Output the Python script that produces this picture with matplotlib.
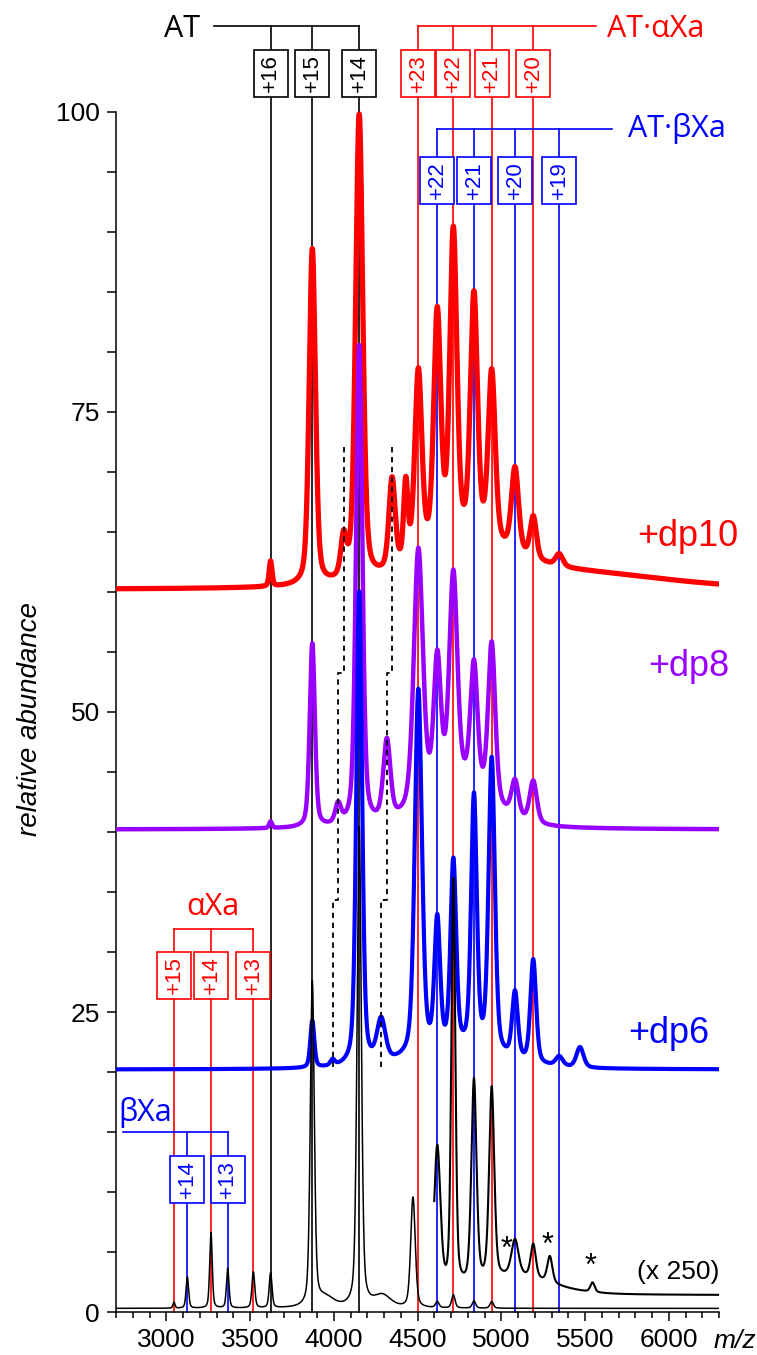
import numpy as np
import matplotlib
matplotlib.use('Agg')
import matplotlib.pyplot as plt
from matplotlib.patches import Rectangle
from matplotlib.ticker import FixedLocator

RED, BLUE, PURPLE = '#ff0000', '#0000ff', '#9900ff'

# m/z grid the spectra are drawn on
mz = np.linspace(2700, 6300, 3601)

# peaks: centre (m/z), height above baseline, half width (m/z)
dp10_base = 60.2
dp10_mz = [3623, 3872, 4059, 4152, 4348, 4430, 4505, 4618, 4714, 4837, 4943, 5082, 5191, 5346, 4800, 5500]
dp10_h = [2.1, 28, 3.3, 38.8, 7.5, 6.5, 15.5, 19.5, 25.8, 20.3, 14.2, 7, 3.5, 1, 3.2, 1.2]
dp10_w = [10, 22, 20, 25, 22, 15, 25, 25, 25, 25, 25, 25, 22, 25, 350, 600]

dp8_base = 40.2
dp8_mz = [3623, 3872, 4026, 4152, 4317, 4505, 4618, 4714, 4837, 4943, 5082, 5191, 4750]
dp8_h = [0.55, 15.3, 1.6, 40, 6.6, 21.5, 11, 17.5, 10.3, 13.2, 3, 3.5, 3.5]
dp8_w = [10, 18, 20, 22, 25, 32, 25, 28, 25, 25, 25, 25, 220]

dp6_base = 20.2
dp6_mz = [3872, 3993, 4152, 4283, 4505, 4618, 4714, 4837, 4943, 5082, 5191, 5346, 5470, 4750]
dp6_h = [3.9, 0.5, 39.5, 3.5, 30.5, 10.7, 15.5, 21, 24.5, 5.5, 8.6, 0.8, 1.7, 1.5]
dp6_w = [14, 15, 20, 30, 25, 20, 20, 20, 22, 20, 20, 25, 25, 300]

at_base = 0.3
at_mz = [3046, 3126, 3267, 3367, 3520, 3623, 3872, 3950, 4152, 4290, 4473, 4618, 4714, 4837, 4943]
at_h = [0.5, 2.6, 6.3, 3.3, 3.0, 2.9, 27, 0.8, 40, 1.0, 9.2, 0.5, 1.1, 0.6, 0.55]
at_w = [7, 9, 9, 9, 10, 10, 14, 60, 15, 60, 16, 12, 12, 12, 12]

# the (x 250) zoom of the same spectrum
x250_start = 4600
x250_base = 1.4
x250_mz = [4618, 4714, 4837, 4943, 5082, 5191, 5290, 5545, 5100]
x250_h = [12, 34, 17, 16, 3, 2.8, 2.2, 0.8, 1.5]
x250_w = [22, 14, 18, 18, 25, 18, 18, 15, 250]
star_mz = [5030, 5275, 5530]

# charge state series (m/z of each line)
at_lines = [3623, 3872, 4152]
at_z = ['+16', '+15', '+14']
ata_lines = [4505, 4714, 4943, 5191]
ata_z = ['+23', '+22', '+21', '+20']
atb_lines = [4618, 4837, 5082, 5346]
atb_z = ['+22', '+21', '+20', '+19']
xa_lines = [3046, 3267, 3520]
xa_z = ['+15', '+14', '+13']
xb_lines = [3126, 3367]
xb_z = ['+14', '+13']

# heparin shifted peaks (dp10 / dp8 / dp6)
shift_left = [4059, 4026, 3993]
shift_right = [4348, 4317, 4283]
shift_levels = [72.1, 53.25, 34.3, 20.4]


def spectrum(x, base, centres, heights, widths, eta=0.4):
    # pseudo-Voigt peaks on a flat baseline
    y = np.full_like(x, base)
    for c, h, w in zip(centres, heights, widths):
        u = (x - c) / w
        y += h * (eta / (1 + u ** 2) + (1 - eta) * np.exp(-np.log(2) * u ** 2))
    return y


fig = plt.figure(figsize=(7.57, 13.55), dpi=100)
ax = fig.add_axes([116 / 757, 43 / 1355, 603 / 757, 1312 / 1355])
ax.set_xlim(2700, 6300)
ax.set_ylim(0, 1312 / 12)
PX = 3600 / 603   # m/z per pixel
PY = 1 / 12       # abundance per pixel

ax.plot(mz, spectrum(mz, dp10_base, dp10_mz, dp10_h, dp10_w), color=RED, lw=3.8, zorder=3)
ax.plot(mz, spectrum(mz, dp8_base, dp8_mz, dp8_h, dp8_w), color=PURPLE, lw=3.2, zorder=4)
ax.plot(mz, spectrum(mz, dp6_base, dp6_mz, dp6_h, dp6_w), color=BLUE, lw=3.0, zorder=5)
ax.plot(mz, spectrum(mz, at_base, at_mz, at_h, at_w), color='k', lw=1.1, zorder=6)
zx = mz[mz >= x250_start]
zy = spectrum(zx, x250_base, x250_mz, x250_h, x250_w)
ax.plot(zx, zy, color='k', lw=1.5, zorder=6)
for s in star_mz:
    ax.text(s, np.interp(s, zx, zy) + 0.4, '*', fontsize=22, ha='center', va='bottom',
            family='Liberation Sans', zorder=7)
ax.text(6300, 3.3, '(x 250)', fontsize=19, ha='right', va='center', family='Liberation Sans')

# dashed guides for the heparin bound peaks
for xs in (shift_left, shift_right):
    px, py = [], []
    for i, x in enumerate(xs):
        px += [x, x]
        py += [shift_levels[i], shift_levels[i + 1]]
    ax.plot(px, py, color='k', lw=1.3, ls=(0, (3, 2.5)), zorder=7)

bw, bh = 34 * PX, 47 * PY


def series(lines, labels, color, bar_y, box_top, bar_from=None, bar_to=None):
    lo = min(lines) if bar_from is None else bar_from
    hi = max(lines) if bar_to is None else bar_to
    ax.plot([lo, hi], [bar_y, bar_y], color=color, lw=1.2, clip_on=False, zorder=2)
    for x, lab in zip(lines, labels):
        ax.plot([x, x], [0, bar_y], color=color, lw=1.2, clip_on=False, zorder=2)
        ax.add_patch(Rectangle((x - bw / 2, box_top - bh), bw, bh, fc='white', ec=color,
                               lw=1.2, clip_on=False, zorder=8))
        ax.text(x, box_top - bh / 2, lab, rotation=90, ha='center', va='center', color=color,
                fontsize=16, family='Liberation Sans', zorder=9)


series(at_lines, at_z, 'k', 107.2, 105.17, bar_from=3285)
series(ata_lines, ata_z, RED, 107.2, 105.17, bar_to=5566)
series(atb_lines, atb_z, BLUE, 98.6, 96.25, bar_to=5661)
series(xa_lines, xa_z, RED, 31.9, 30.0)
series(xb_lines, xb_z, BLUE, 15.0, 13.0, bar_from=2742)

lab = dict(fontsize=22, family='Open Sans', va='baseline')
ax.text(3094, 106.25, 'AT', ha='center', color='k', **lab)
ax.text(5631, 106.25, 'AT·αXa', ha='left', color=RED, **lab)
ax.text(5757, 97.9, 'AT·βXa', ha='left', color=BLUE, **lab)
ax.text(3279, 33.1, 'αXa', ha='center', color=RED, **lab)
ax.text(2873, 15.94, 'βXa', ha='center', color=BLUE, **lab)

dp = dict(fontsize=26, family='Liberation Sans', va='baseline', ha='left', clip_on=False)
ax.text(5811, 63.8, '+dp10', color=RED, **dp)
ax.text(5880, 53.0, '+dp8', color=PURPLE, **dp)
ax.text(5757, 22.4, '+dp6', color=BLUE, **dp)

# axes
for side in ('top', 'right'):
    ax.spines[side].set_visible(False)
ax.spines['left'].set_bounds(0, 100)
for side in ('left', 'bottom'):
    ax.spines[side].set_linewidth(1.1)
ax.set_xticks(range(3000, 6001, 500))
ax.xaxis.set_minor_locator(FixedLocator(range(2700, 6301, 100)))
ax.set_yticks([0, 25, 50, 75, 100])
ax.yaxis.set_minor_locator(FixedLocator(range(0, 101, 5)))
ax.tick_params(which='major', direction='out', length=6.5, width=1.1, labelsize=19, pad=5)
ax.tick_params(axis='x', which='minor', direction='out', length=4, width=1.1)
ax.tick_params(axis='y', which='minor', direction='out', length=6.5, width=1.1)
for t in ax.get_xticklabels() + ax.get_yticklabels():
    t.set_family('Liberation Sans')
ax.text(6267, -2.4, 'm/z', fontsize=19, style='italic', family='Liberation Sans',
        ha='left', va='center', clip_on=False)
ax.text(2184, 49.4, 'relative abundance', fontsize=20, style='italic', family='Liberation Sans',
        rotation=90, ha='center', va='center', clip_on=False)

fig.savefig('out.png', dpi=100)
